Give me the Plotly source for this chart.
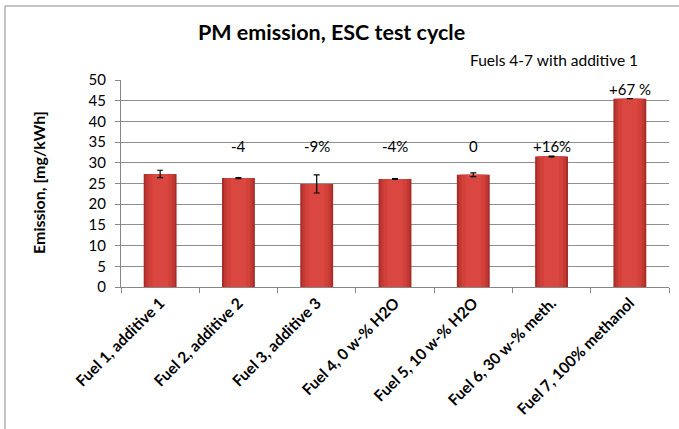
import plotly.graph_objects as go

categories = ["Fuel 1, additive 1", "Fuel 2, additive 2", "Fuel 3, additive 3",
              "Fuel 4, 0 w-% H2O", "Fuel 5, 10 w-% H2O", "Fuel 6, 30 w-% meth.",
              "Fuel 7, 100% methanol"]
emission = [27.3, 26.3, 24.9, 26.1, 27.1, 31.5, 45.5]
errors = [0.9, 0.15, 2.2, 0.1, 0.45, 0.1, 0.0]
change_labels = ["", "-4", "-9%", "-4%", "0", "+16%", "+67 %"]
y_ticks = [0, 5, 10, 15, 20, 25, 30, 35, 40, 45, 50]

FONT = "Lato"
W, H = 679, 429
ML, MR, MT, MB = 121, 10, 80, 142
pw = W - ML - MR
ph = H - MT - MB

def px_x(px):
    return (px - ML) / pw

def px_y(py):
    return (H - MB - py) / ph

fig = go.Figure()
# layered bars to imitate the shaded (darker edge) bar style
shades = [(0.42, "#A82D29"), (0.37, "#C23833"), (0.30, "#D2403A"), (0.20, "#DA4640")]
for i, (wd, col) in enumerate(shades):
    fig.add_trace(go.Bar(
        x=categories, y=emission, width=wd,
        marker=dict(color=col, line=dict(width=0)),
        hoverinfo="skip" if i else None,
    ))
fig.add_trace(go.Bar(
    x=categories, y=emission, width=0.42,
    marker=dict(color="rgba(0,0,0,0)", line=dict(width=0)),
    error_y=dict(type="data", array=errors, visible=True, color="black",
                 thickness=1.2, width=3),
))

annotations = []
for c, v, lab in zip(categories, emission, change_labels):
    if lab:
        annotations.append(dict(x=c, y=max(34, v + 2.3), xref="x", yref="y",
                                text=lab, showarrow=False, xanchor="center",
                                font=dict(family=FONT, size=15, color="black")))
annotations.append(dict(x=px_x(554), y=px_y(60), xref="paper", yref="paper",
                        text="Fuels 4-7 with additive 1", showarrow=False,
                        xanchor="center", yanchor="middle",
                        font=dict(family=FONT, size=15.5, color="black")))
annotations.append(dict(x=px_x(331), y=px_y(32), xref="paper", yref="paper",
                        text="<b>PM emission, ESC test cycle</b>", showarrow=False,
                        xanchor="center", yanchor="middle",
                        font=dict(family=FONT, size=21.5, color="black")))
annotations.append(dict(x=px_x(38), y=px_y(183), xref="paper", yref="paper",
                        text="<b>Emission, [mg/kWh]</b>", showarrow=False,
                        textangle=-90, xanchor="center", yanchor="middle",
                        font=dict(family=FONT, size=16, color="black")))

fig.update_layout(
    width=W, height=H,
    margin=dict(l=ML, r=MR, t=MT, b=MB, autoexpand=False),
    paper_bgcolor="white", plot_bgcolor="white",
    showlegend=False, barmode="overlay",
    annotations=annotations,
    shapes=[dict(type="rect", xref="paper", yref="paper",
                 x0=px_x(5), x1=px_x(695), y0=px_y(445), y1=px_y(6),
                 line=dict(color="#8C8C8C", width=1), fillcolor="rgba(0,0,0,0)",
                 layer="below")],
    xaxis=dict(
        type="category", tickangle=-45, tickson="boundaries",
        ticks="outside", ticklen=5, tickcolor="#868686",
        showline=True, linecolor="#868686", linewidth=1,
        showgrid=False, automargin=False,
        tickfont=dict(family=FONT, size=15.5, color="black", weight="bold"),
    ),
    yaxis=dict(
        range=[0, 50], tickvals=y_ticks,
        ticks="outside", ticklen=5, tickcolor="#868686",
        showline=True, linecolor="#868686", linewidth=1,
        showgrid=True, gridcolor="#8E8E8E", gridwidth=1,
        zeroline=False, automargin=False, ticklabelstandoff=6,
        tickfont=dict(family=FONT, size=15, color="black"),
    ),
)

fig.write_html(
    "out.html",
    config={"displayModeBar": False},
    post_script="document.body.style.margin='0';document.body.style.overflow='hidden';",
)
